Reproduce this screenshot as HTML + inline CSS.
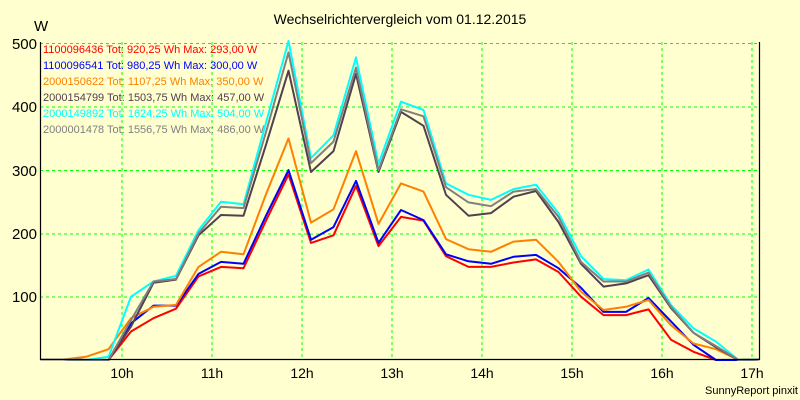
<!DOCTYPE html>
<html><head><meta charset="utf-8"><style>
html,body{margin:0;padding:0;background:#ffffd0;}
svg{display:block;font-family:"Liberation Sans",Arial,sans-serif;}
</style></head><body>
<svg id="s" width="800" height="400" xmlns="http://www.w3.org/2000/svg">
<rect width="800" height="400" fill="#ffffd0"/>
<text x="400" y="24" font-size="14" text-anchor="middle">Wechselrichtervergleich vom 01.12.2015</text>
<text x="34" y="31" font-size="15">W</text>
<g font-size="15" text-anchor="end">
<text x="37" y="49">500</text><text x="37" y="112">400</text><text x="37" y="176">300</text><text x="37" y="239">200</text><text x="37" y="302">100</text>
</g>
<g font-size="14" text-anchor="middle">
<text x="122" y="378">10h</text><text x="212" y="378">11h</text><text x="302" y="378">12h</text><text x="392" y="378">13h</text><text x="482" y="378">14h</text><text x="572" y="378">15h</text><text x="662" y="378">16h</text><text x="752" y="378">17h</text>
</g>
<text x="798" y="394" font-size="11" text-anchor="end">SunnyReport pinxit</text>
<g stroke="#00ff00" stroke-width="1" stroke-dasharray="3,3">
<line x1="40" x2="759" y1="43.5" y2="43.5"/><line x1="40" x2="759" y1="107" y2="107"/><line x1="40" x2="759" y1="170.5" y2="170.5"/><line x1="40" x2="759" y1="234" y2="234"/><line x1="40" x2="759" y1="297" y2="297"/>
<line y1="42" y2="360" x1="122" x2="122"/><line y1="42" y2="360" x1="212" x2="212"/><line y1="42" y2="360" x1="302" x2="302"/><line y1="42" y2="360" x1="392" x2="392"/><line y1="42" y2="360" x1="482" x2="482"/><line y1="42" y2="360" x1="572" x2="572"/><line y1="42" y2="360" x1="662" x2="662"/><line y1="42" y2="360" x1="752" x2="752"/>
</g>
<g id="lines"></g>
<path d="M40.5 42 V359.5 H759.5 V42" fill="none" stroke="#000" stroke-width="1.2"/>
<g font-size="11">
<text x="43" y="53" fill="#ff0000">1100096436 Tot: 920,25 Wh Max: 293,00 W</text>
<text x="43" y="69" fill="#0000ff">1100096541 Tot: 980,25 Wh Max: 300,00 W</text>
<text x="43" y="85" fill="#ff8000">2000150622 Tot: 1107,25 Wh Max: 350,00 W</text>
<text x="43" y="101" fill="#504050">2000154799 Tot: 1503,75 Wh Max: 457,00 W</text>
<text x="43" y="117" fill="#00ffff">2000149892 Tot: 1624,25 Wh Max: 504,00 W</text>
<text x="43" y="133" fill="#808080">2000001478 Tot: 1556,75 Wh Max: 486,00 W</text>
</g>
</svg>
<script>
var S={
red:[0,0,0,45,66,81,132,147,145,220,293,185,197,275,180,226,220,164,147,147,154,159,139,100,71,71,80,32,13,0,0],
blue:[0,0,0,58,86,86,136,155,152,228,300,190,210,283,185,237,221,167,156,152,163,166,145,114,76,76,98,61,24,0,0],
orange:[0,5,17,66,84,87,147,171,167,262,350,217,238,330,215,279,266,191,175,171,187,190,155,108,79,84,95,55,26,17,0],
dark:[0,0,0,53,122,127,197,229,228,340,457,297,330,452,297,392,370,261,228,232,258,267,218,152,116,121,134,82,43,20,0],
cyan:[0,0,5,100,124,133,205,250,246,375,504,319,355,478,310,408,395,279,261,253,270,277,232,164,128,126,143,87,50,29,0],
gray:[0,0,0,63,124,128,200,242,240,360,486,311,345,462,300,396,385,273,249,243,266,270,226,155,124,124,138,84,43,22,0]};
var col={red:"#ff0000",blue:"#0000ff",orange:"#ff8000",dark:"#504050",cyan:"#00ffff",gray:"#808080"};
var g=document.getElementById("lines"),h="";
for(var k in S){var a=S[k],p="40.5,359.5 63.5,359.5 ";
for(var i=1;i<a.length;i++){var x=86+22.5*(i-1);p+=x.toFixed(1)+","+(360-a[i]*0.633).toFixed(1)+" ";}
p+="759,359.5";
h+='<polyline points="'+p+'" fill="none" stroke="'+col[k]+'" stroke-width="2" stroke-linejoin="round"/>';}
g.innerHTML=h;
</script>
</body></html>
